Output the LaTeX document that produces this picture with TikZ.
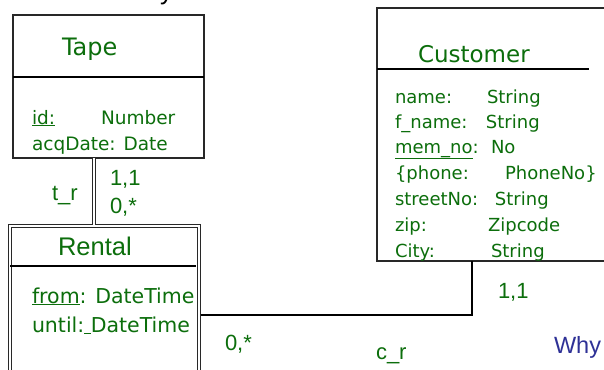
\documentclass[tikz,border=0pt]{standalone}
\usepackage{fontspec}
\setmainfont{DejaVu Sans}
\newfontfamily\arialfont{Liberation Sans}
\definecolor{ergreen}{RGB}{12,110,12}
\definecolor{whyblue}{RGB}{46,49,150}
\definecolor{edgegray}{RGB}{40,40,40}
\tikzset{
  entitybox/.style={draw=edgegray, line width=2.5bp, fill=white, rectangle, inner sep=0, outer sep=0, anchor=north west},
  weakbox/.style={draw=edgegray, line width=1bp, double=white, double distance=2bp, rectangle, inner sep=0, outer sep=1.5bp, anchor=north west},
  divider/.style={draw=black, line width=1.6bp},
  link/.style={draw=black, line width=1.5bp},
  doublelink/.style={draw=edgegray, line width=1bp, double=white, double distance=1.8bp},
  txt/.style={anchor=base west, inner sep=0, outer sep=0, text=ergreen},
  title/.style={txt, font=\fontsize{24bp}{28bp}\selectfont},
  attr/.style={txt, font=\fontsize{18.5bp}{22bp}\selectfont},
  cattr/.style={txt, font=\fontsize{18bp}{22bp}\selectfont},
  rattr/.style={txt, font=\fontsize{20.5bp}{24bp}\selectfont},
  card/.style={txt, font=\arialfont\fontsize{22bp}{26bp}\selectfont},
}
\begin{document}
\begin{tikzpicture}[x=1bp, y=-1bp]
\useasboundingbox (0,0) rectangle (604,369);
\clip (0,0) rectangle (604,369);
\fill[white] (0,0) rectangle (604,369);

% partly visible heading letter above the diagram
\node[anchor=base west, inner sep=0, font=\arialfont\fontsize{26bp}{30bp}\selectfont] (headtail) at (160,-1) {y};

% entity boxes
\node[entitybox, minimum width=191bp, minimum height=143bp] (tape) at (13,15) {};
\node[entitybox, minimum width=260bp, minimum height=253bp] (customer) at (377,8) {};
\node[weakbox, minimum width=189bp, minimum height=200bp] (rental) at (8.5,224.5) {};

% compartment dividers
\draw[divider] ([yshift=-62bp]tape.north west) -- ([yshift=-62bp]tape.north east);
\draw[divider] ([yshift=-61bp]customer.north west) -- ++(212,0);
\draw[divider] (10,266) -- (196,266);

% relationship t_r (Tape -- Rental)
\coordinate (trx) at (93.8,0);
\draw[doublelink] (trx |- tape.south) -- (trx |- rental.north);

% relationship c_r (Rental -- Customer)
\coordinate (crbend) at (472,315);
\draw[link] (crbend -| rental.east) -- (crbend) -- (crbend |- customer.south);

% Tape
\node[title] (tapetitle) at (62,55) {Tape};
\node[attr] (tapeid) at (32,124) {\makebox[69bp][l]{\underline{id:}}Number};
\node[attr] (tapedate) at (32,150) {acqDate: Date};

% Rental
\node[txt, font=\arialfont\fontsize{25.5bp}{30bp}\selectfont] (rentaltitle) at (58,255) {Rental};
\node[rattr] (rentalfrom) at (32,303) {\underline{from}: DateTime};
\node[rattr] (rentaluntil) at (32,332) {until:\underline{\ }DateTime};

% Customer
\node[title, font=\fontsize{23bp}{28bp}\selectfont] (custtitle) at (418,62) {Customer};
\node[cattr] (cname) at (395,103) {\makebox[92bp][l]{name:}String};
\node[cattr] (cfname) at (395,128) {\makebox[91bp][l]{f\_name:}String};
\node[cattr] (cmem) at (395,153) {\makebox[96bp][l]{\underline{mem\_no}:}No};
\node[cattr] (cphone) at (395,179) {\makebox[110bp][l]{\{phone:}PhoneNo\}};
\node[cattr] (cstreet) at (395,205) {\makebox[100bp][l]{streetNo:}String};
\node[cattr] (czip) at (395,231) {\makebox[93bp][l]{zip:}Zipcode};
\node[cattr] (ccity) at (395,257) {\makebox[96bp][l]{City:}String};

% relationship names and cardinalities
\node[card] (trname) at (52,200) {t\_r};
\node[card] (trtape) at (110,185) {1,1};
\node[card] (trrental) at (110,213) {0,*};
\node[card] (crrental) at (225,350) {0,*};
\node[card] (crname) at (376,359) {c\_r};
\node[card] (crcust) at (498,298) {1,1};
\node[card, text=whyblue, font=\arialfont\fontsize{23.5bp}{27bp}\selectfont] (why) at (554,353) {Why};
\end{tikzpicture}
\end{document}
